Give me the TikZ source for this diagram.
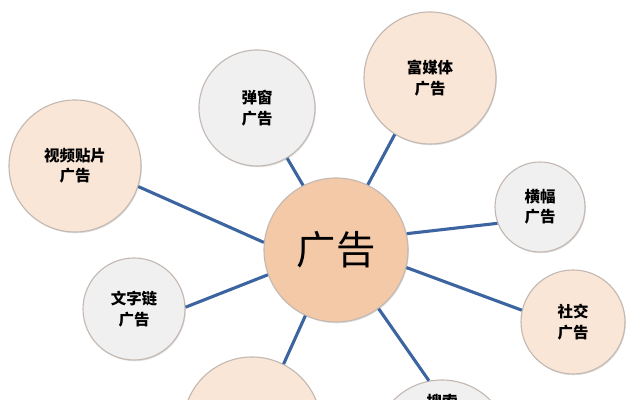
\documentclass[tikz,border=0pt]{standalone}
\usepackage{fontspec}
\newfontfamily\cjk{Noto Sans CJK SC}
\usetikzlibrary{shadows}
\definecolor{peach}{RGB}{250,230,215}
\definecolor{peachdark}{RGB}{243,201,167}
\definecolor{greyfill}{RGB}{240,240,240}
\definecolor{rimcol}{RGB}{195,185,178}
\definecolor{linkblue}{RGB}{60,100,160}

\begin{document}
\begin{tikzpicture}[
        bubble/.style={circle, draw=rimcol, line width=0.8pt, inner sep=0pt, align=center,
            font=\cjk\bfseries\fontsize{11}{14.5}\selectfont,
            drop shadow={opacity=0.25, shadow xshift=0.6pt, shadow yshift=-0.9pt}},
        warm/.style={bubble, fill=peach},
        cool/.style={bubble, fill=greyfill},
        link/.style={draw=linkblue, line width=2.2pt}
    ]
                \useasboundingbox (0,0) rectangle (15.975,10);

                \node[bubble, fill=peachdark, minimum size=3.6cm, font=\cjk\fontsize{28}{30}\selectfont] (ad) at (8.4,3.75) {广告};
                \node[warm, minimum size=3.3cm] (video) at (1.875,5.85) {视频贴片\\广告};
                \node[cool, minimum size=2.9cm] (popup) at (6.425,7.3) {弹窗\\广告};
                \node[warm, minimum size=3.3cm] (richmedia) at (10.75,8.05) {富媒体\\广告};
                \node[cool, minimum size=2.25cm] (banner) at (13.5,4.825) {横幅\\广告};
                \node[warm, minimum size=2.6cm] (social) at (14.325,1.95) {社交\\广告};
                \node[cool, minimum size=2.55cm] (textlink) at (3.35,2.275) {文字链\\广告};
                \node[warm, minimum size=3.45cm] (lowleft) at (6.3,-0.65) {};
                \node[cool, minimum size=3.4cm] (search) at (11.05,-1.2) {};
                \node[anchor=north, inner sep=0pt, align=center, font=\cjk\bfseries\fontsize{11}{14.5}\selectfont] (searchtext) at ([yshift=-0.375cm]search.north) {搜索\\广告};

                \draw[link] (ad.174.5) -- (video.-18);
                \draw[link] (ad.117) -- (popup.-59);
                \draw[link] (ad.64) -- (richmedia.238);
                \draw[link] (ad.13.5) -- (banner.201);
                \draw[link] (ad.-14) -- (social.167);
                \draw[link] (ad.200) -- (textlink.2);
                \draw[link] (ad.-115) -- (lowleft.63);
                \draw[link] (ad.-54) -- (search.101);
\end{tikzpicture}
\end{document}
